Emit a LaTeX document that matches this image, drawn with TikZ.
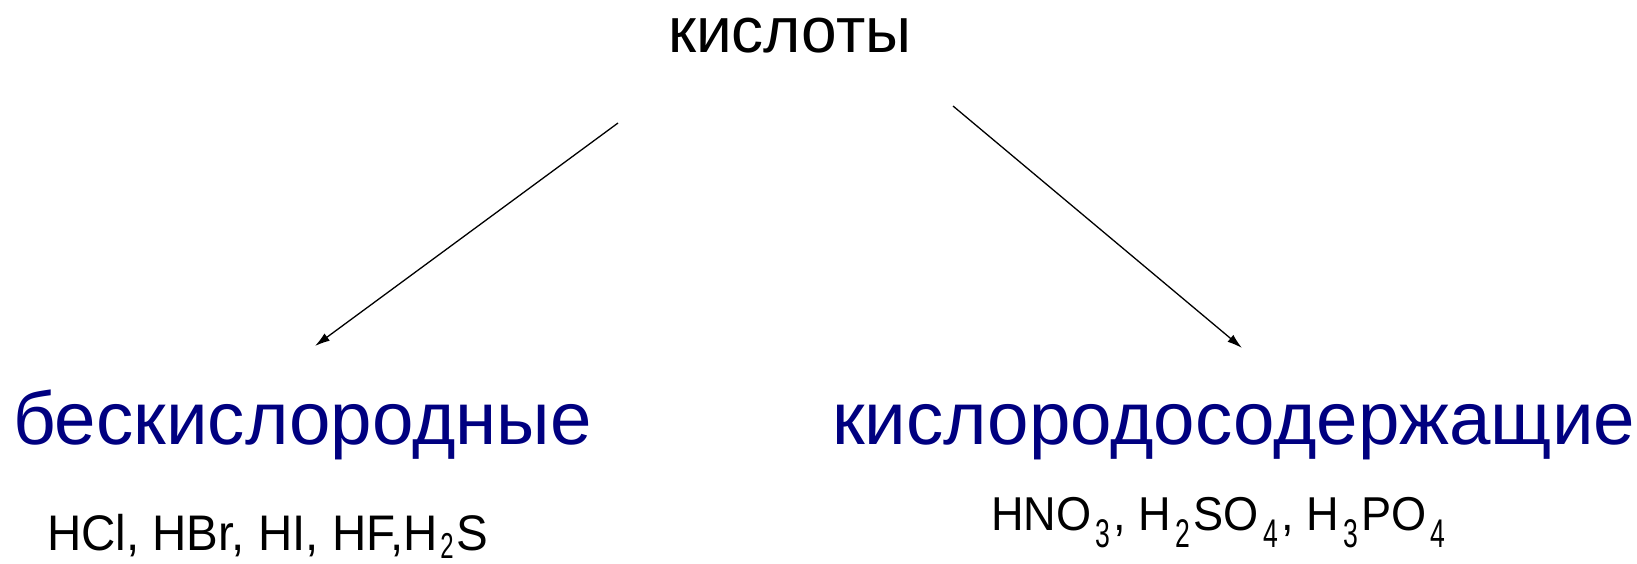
\documentclass[tikz,border=0pt]{standalone}
\usepackage{fontspec}
\setmainfont{Liberation Sans}
\usetikzlibrary{arrows.meta}
\definecolor{navytext}{RGB}{0,0,128}
% condensed, lowered subscript: #1 size, #2 drop, #3 kern before, #4 kern after, #5 digit
\newcommand{\sbs}[5]{\kern#3pt\raisebox{-#2pt}{\scalebox{0.7}[1]{\fontsize{#1}{#1}\selectfont #5}}\kern#4pt}
\tikzset{
  lbl/.style={inner sep=0pt, outer sep=0pt, anchor=base west},
  top/.style={lbl, font=\fontsize{64}{64}\selectfont},
  kind/.style={lbl, text=navytext, font=\fontsize{74.5}{74.5}\selectfont},
  formulaA/.style={lbl, font=\fontsize{50}{50}\selectfont},
  formulaB/.style={lbl, font=\fontsize{47.5}{47.5}\selectfont},
  arr/.style={-{Latex[length=15pt,width=9pt]}, line width=1.3pt}
}
\begin{document}
\begin{tikzpicture}[x=1pt,y=-1pt]
\useasboundingbox (0,0) rectangle (1637,563);
\node[top] (acids) at (668,52) {кислоты};
\node[kind] (oxyfree) at (13,444) {бескислородные};
\node[kind] (oxycont) at (832,444) {кислородосодержащие};
\node[formulaA] (f1) at (47,550) {\scalebox{0.95}[1]{HCl, HBr, HI, HF,H\sbs{36}{8}{3}{2.5}{2}S}};
\node[formulaB] (f2) at (991,530) {\scalebox{0.95}[1]{HNO\sbs{40}{17}{4.5}{3.5}{3}, H\sbs{40}{17}{4.5}{3.5}{2}SO\sbs{40}{17}{4.5}{3.5}{4}, H\sbs{40}{17}{4.5}{3.5}{3}PO\sbs{40}{17}{4.5}{3.5}{4}}};
\coordinate (l0) at (618,123);
\coordinate (l1) at (315,346);
\coordinate (r0) at (953,106);
\coordinate (r1) at (1242,348);
\draw[arr] (l0) -- (l1);
\draw[arr] (r0) -- (r1);
\end{tikzpicture}
\end{document}
